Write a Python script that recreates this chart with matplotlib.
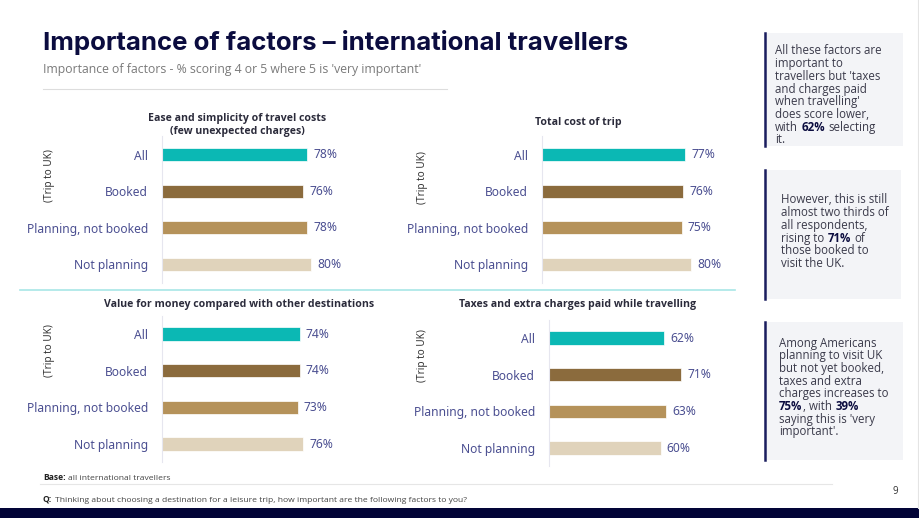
import matplotlib
matplotlib.use("Agg")
import matplotlib.pyplot as plt
from matplotlib.patches import Rectangle
from matplotlib.lines import Line2D

W, H = 920, 518

# data
categories = ["All", "Booked", "Planning, not booked", "Not planning"]
ease = [78, 76, 78, 80]
total_cost = [77, 76, 75, 80]
value_money = [74, 74, 73, 76]
taxes = [62, 71, 63, 60]

titles = ["Ease and simplicity of travel costs\n(few unexpected charges)",
          "Total cost of trip",
          "Value for money compared with other destinations",
          "Taxes and extra charges paid while travelling"]

bar_colors = ["#0bb8b4", "#8b6b3d", "#b5925a", "#e0d3bb"]
label_col = "#4b4f91"
navy = "#0b0c3f"

LABEL_FONT = "Noto Sans"
TEXT_FONT = "Open Sans"


def fx(x):
    return x / W


def fy(y):
    return 1 - y / H


fig = plt.figure(figsize=(W / 100, H / 100), dpi=100)
fig.patch.set_facecolor("white")

# title block
fig.text(fx(43), fy(42), "Importance of factors \u2013 international travellers",
         fontsize=18.6, fontweight="bold", color=navy, family="Inter", va="center")
fig.text(fx(43), fy(70), "Importance of factors - % scoring 4 or 5 where 5 is 'very important'",
         fontsize=8.8, color="#7a7a7a", family=TEXT_FONT, va="center")
fig.add_artist(Line2D([fx(43), fx(447)], [fy(89), fy(89)], color="#dddddd", lw=0.8))

# panels: (values, axes left px, first bar centre px, last bar centre px, title x, title y,
#          side label x, side label y)
panels = [
    (ease, 162, 154.5, 264.5, 237, 125, 50, 176),
    (total_cost, 542, 154.5, 264.5, 578, 123, 423, 178),
    (value_money, 162, 334, 444, 239, 304, 50, 351),
    (taxes, 549, 338, 448, 578, 304, 423, 356),
]

for (vals, x0, c0, c3, tx, ty, sx, sy), title in zip(panels, titles):
    step = (c3 - c0) / 3
    top = c0 - step / 2
    bot = c3 + step / 2
    ax = fig.add_axes([fx(x0), fy(bot), 186 / W, (bot - top) / H])
    ypos = list(range(len(categories)))
    ax.barh(ypos, vals, height=0.36, color=bar_colors, edgecolor="#ffffff", linewidth=0.5)
    ax.set_xlim(0, 100)
    ax.set_ylim(3.5, -0.5)
    ax.set_yticks(ypos)
    ax.set_yticklabels(categories, fontsize=8.7, color=label_col, family=LABEL_FONT)
    ax.tick_params(axis="y", length=0, pad=10)
    ax.set_xticks([])
    for s in ["top", "right", "bottom"]:
        ax.spines[s].set_visible(False)
    ax.spines["left"].set_color("#e6e6ef")
    ax.patch.set_alpha(0)
    for i, v in enumerate(vals):
        ax.text(v + 3.3, i, f"{v}%", va="center", ha="left", fontsize=8.7,
                color=label_col, family=LABEL_FONT)
    fig.text(fx(tx), fy(ty), title, ha="center", va="center", fontsize=7.6,
             fontweight="bold", color="#2b2b3b", family=TEXT_FONT, linespacing=1.3)
    fig.text(fx(sx), fy(sy), "(Trip to UK)", rotation=90, ha="center", va="center",
             fontsize=7.2, color="#333333", family=LABEL_FONT)

# separator between rows
fig.add_artist(Line2D([fx(20), fx(735)], [fy(290), fy(290)], color="#a8e6e6", lw=1.2))

# right-hand commentary boxes
boxes = [
    (33, 146, 903, 775, 51, [
        [("All these factors are", False)],
        [("important to", False)],
        [("travellers but 'taxes", False)],
        [("and charges paid", False)],
        [("when travelling'", False)],
        [("does score lower,", False)],
        [("with ", False), ("62%", True), (" selecting", False)],
        [("it.", False)],
    ]),
    (170, 299, 901, 781, 200, [
        [("However, this is still", False)],
        [("almost two thirds of", False)],
        [("all respondents,", False)],
        [("rising to ", False), ("71%", True), (" of", False)],
        [("those booked to", False)],
        [("visit the UK.", False)],
    ]),
    (322, 460, 903, 779, 343, [
        [("Among Americans", False)],
        [("planning to visit UK", False)],
        [("but not yet booked,", False)],
        [("taxes and extra", False)],
        [("charges increases to", False)],
        [("75%", True), (", with ", False), ("39%", True)],
        [("saying this is 'very", False)],
        [("important'.", False)],
    ]),
]

fig.canvas.draw()
renderer = fig.canvas.get_renderer()


def rich_line(x, y, segs, size, base_col, bold_col):
    # draw a line of text made of plain and bold pieces, side by side on one baseline
    space = size * 0.26 * 100 / 72
    for txt, bold in segs:
        if txt.startswith(" "):
            x += space
        t = fig.text(fx(x), fy(y), txt.strip(), fontsize=size, va="baseline", ha="left",
                     family=TEXT_FONT, fontweight="bold" if bold else "normal",
                     color=bold_col if bold else base_col)
        x += t.get_window_extent(renderer).width + 0.6
        if txt.endswith(" "):
            x += space


line_h = 12.7
for top, bot, right, tx, ty, lines in boxes:
    fig.add_artist(Rectangle((fx(764), fy(bot)), (right - 764) / W, (bot - top) / H,
                             facecolor="#f3f4f7", edgecolor="none"))
    fig.add_artist(Line2D([fx(765), fx(765)], [fy(top), fy(bot)], color="#1a1d5e", lw=1.8))
    for k, segs in enumerate(lines):
        rich_line(tx, ty + k * line_h + 3.5, segs, 8.3, "#3a3a4a", navy)

# faint right border
fig.add_artist(Line2D([fx(918), fx(918)], [fy(0), fy(508)], color="#e4e4e4", lw=0.8))

# footer
rich_line(43, 479.5, [("Base:", True), (" all international travellers", False)],
          6.1, "#444444", "#222222")
fig.add_artist(Line2D([fx(40), fx(832)], [fy(484), fy(484)], color="#e6e6e6", lw=0.8))
rich_line(43, 501.5, [("Q:", True),
                      (" Thinking about choosing a destination for a leisure trip, "
                       "how important are the following factors to you?", False)],
          6.1, "#444444", "#222222")
fig.text(fx(895), fy(492), "9", fontsize=7, color="#333333", family=TEXT_FONT,
         va="center", ha="center")
fig.add_artist(Rectangle((0, 0), 1, 10 / H, facecolor="#020437", edgecolor="none"))

fig.savefig("out.png", dpi=100)
